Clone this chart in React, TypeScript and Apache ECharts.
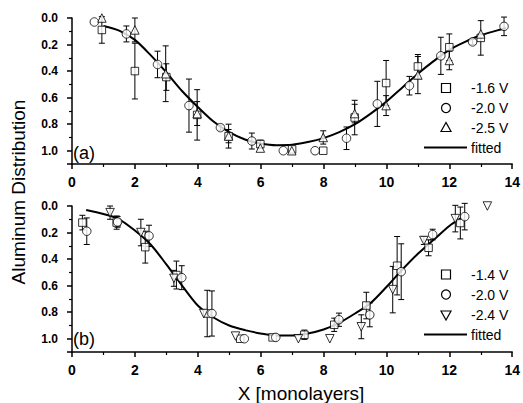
import React, { useEffect, useRef } from "react";
import * as echarts from "echarts";

// ---- data: [x, y, error] ----
const topSquare = [
  [0.95, 0.09, 0.1], [2.0, 0.40, 0.21], [3.0, 0.445, 0.1], [3.98, 0.73, 0.19],
  [4.98, 0.89, 0.05], [5.99, 0.95, 0.03], [7.0, 0.99, 0], [7.99, 1.0, 0],
  [8.99, 0.75, 0.13], [9.99, 0.49, 0.17], [11.0, 0.365, 0.09], [12.0, 0.22, 0.1],
  [13.0, 0.15, 0.13],
];
const topCircle = [
  [0.71, 0.03, 0], [1.73, 0.12, 0.06], [2.72, 0.35, 0.1], [3.72, 0.66, 0.2],
  [4.72, 0.826, 0.02], [5.72, 0.927, 0.06], [6.72, 1.0, 0], [7.73, 1.0, 0],
  [8.73, 0.906, 0.085], [9.71, 0.647, 0.17], [10.73, 0.51, 0.07], [11.73, 0.285, 0.14],
  [12.74, 0.18, 0.02], [13.74, 0.063, 0.07],
];
const topTriangle = [
  [0.95, 0.0, 0], [2.0, 0.09, 0.09], [2.98, 0.42, 0.21], [3.98, 0.72, 0.09],
  [4.98, 0.89, 0.09], [5.99, 0.98, 0], [6.99, 1.0, 0], [7.99, 0.9, 0.05],
  [8.99, 0.72, 0.07], [9.99, 0.66, 0.075], [11.0, 0.43, 0.14], [12.0, 0.32, 0.07],
  [13.0, 0.12, 0],
];
const topFit = [
  [1.0, 0.06], [1.5, 0.095], [2.0, 0.165], [2.5, 0.28], [3.0, 0.41], [3.5, 0.55],
  [4.0, 0.67], [4.5, 0.78], [5.0, 0.86], [5.5, 0.915], [6.0, 0.945], [6.5, 0.958],
  [7.0, 0.955], [7.5, 0.935], [8.0, 0.905], [8.5, 0.86], [9.0, 0.8], [9.5, 0.72],
  [10.0, 0.63], [10.5, 0.525], [11.0, 0.42], [11.5, 0.325], [12.0, 0.24], [12.5, 0.18],
  [13.0, 0.13], [13.5, 0.095], [13.8, 0.075],
];

const botSquare = [
  [0.33, 0.125, 0.055], [1.42, 0.125, 0.05], [2.33, 0.31, 0.12], [3.32, 0.52, 0.105],
  [4.3, 0.81, 0.175], [5.35, 1.0, 0], [6.38, 0.99, 0], [7.39, 0.97, 0.035],
  [8.34, 0.895, 0.05], [9.36, 0.75, 0.1], [10.34, 0.45, 0.22], [11.34, 0.315, 0.06],
  [12.35, 0.128, 0.12],
];
const botCircle = [
  [0.47, 0.19, 0.1], [1.45, 0.12, 0.04], [2.45, 0.225, 0.08], [3.49, 0.54, 0.09],
  [4.45, 0.81, 0.17], [5.48, 1.0, 0], [6.48, 0.99, 0], [8.49, 0.857, 0.05],
  [9.47, 0.82, 0.09], [10.47, 0.495, 0.21], [11.47, 0.215, 0.04], [12.49, 0.08, 0.1],
];
const botTriangle = [
  [1.21, 0.05, 0.05], [2.19, 0.2, 0.1], [3.24, 0.545, 0.06], [4.19, 0.81, 0],
  [5.2, 0.98, 0], [7.2, 1.0, 0], [8.2, 1.0, 0], [9.2, 0.91, 0.09],
  [10.2, 0.63, 0.175], [11.19, 0.26, 0.03], [12.19, 0.095, 0.1], [13.21, 0.0, 0],
];
const botFit = [
  [0.45, 0.03], [1.0, 0.06], [1.5, 0.1], [2.0, 0.185], [2.5, 0.29], [3.0, 0.44],
  [3.5, 0.6], [4.0, 0.75], [4.5, 0.84], [5.0, 0.9], [5.5, 0.935], [6.0, 0.96],
  [6.5, 0.975], [7.0, 0.975], [7.5, 0.96], [8.0, 0.93], [8.5, 0.88], [9.0, 0.81],
  [9.5, 0.73], [10.0, 0.61], [10.5, 0.48], [11.0, 0.36], [11.5, 0.255], [12.0, 0.15],
  [12.35, 0.095],
];

const topLegend = ["-1.6 V", "-2.0 V", "-2.5 V", "fitted"];
const botLegend = ["-1.4 V", "-2.0 V", "-2.4 V", "fitted"];
const xTicks = { min: 0, max: 14, interval: 2 };
const yTicks = { min: 0, max: 1.1, interval: 0.2 };

const FONT = "'Liberation Sans', Arial, sans-serif";

function errorSeries(data: number[][], idx: number) {
  return {
    type: "custom",
    xAxisIndex: idx,
    yAxisIndex: idx,
    data,
    z: 2,
    silent: true,
    encode: { x: 0, y: 1 },
    renderItem: (_p: any, api: any) => {
      const x = api.value(0);
      const y = api.value(1);
      const e = api.value(2);
      if (!e) return { type: "group", children: [] };
      const a = api.coord([x, y - e]);
      const b = api.coord([x, y + e]);
      const hw = 3;
      const st = { stroke: "#000", lineWidth: 1 };
      return {
        type: "group",
        children: [
          { type: "line", shape: { x1: a[0], y1: a[1], x2: b[0], y2: b[1] }, style: st },
          { type: "line", shape: { x1: a[0] - hw, y1: a[1], x2: a[0] + hw, y2: a[1] }, style: st },
          { type: "line", shape: { x1: b[0] - hw, y1: b[1], x2: b[0] + hw, y2: b[1] }, style: st },
        ],
      };
    },
  };
}

function scatterSeries(name: string, data: number[][], idx: number, symbol: string, rotate = 0) {
  return {
    type: "scatter",
    name,
    xAxisIndex: idx,
    yAxisIndex: idx,
    data: data.map((d) => [d[0], d[1]]),
    symbol,
    symbolSize: symbol === "rect" ? 7.5 : 8.5,
    symbolRotate: rotate,
    itemStyle: { color: "#fff", borderColor: "#000", borderWidth: 1 },
    z: 3,
  };
}

function fitSeries(data: number[][], idx: number) {
  return {
    type: "line",
    name: "fitted",
    xAxisIndex: idx,
    yAxisIndex: idx,
    data,
    smooth: 0.3,
    showSymbol: false,
    lineStyle: { color: "#000", width: 2 },
    z: 2,
  };
}

function xAxis(idx: number) {
  return {
    type: "value",
    gridIndex: idx,
    ...xTicks,
    axisLine: { show: true, onZero: false, lineStyle: { color: "#000", width: 1.5 } },
    axisTick: { show: true, inside: false, length: 5, lineStyle: { color: "#000", width: 1.5 } },
    minorTick: { show: true, splitNumber: 2, length: 3, lineStyle: { color: "#000", width: 1.2 } },
    splitLine: { show: false },
    axisLabel: { color: "#000", fontSize: 14, fontWeight: "bold", fontFamily: FONT, margin: 11 },
  };
}

function yAxis(idx: number) {
  return {
    type: "value",
    gridIndex: idx,
    inverse: true,
    ...yTicks,
    axisLine: { show: true, onZero: false, lineStyle: { color: "#000", width: 1.5 } },
    axisTick: { show: true, inside: false, length: 5, lineStyle: { color: "#000", width: 1.5 } },
    minorTick: { show: true, splitNumber: 2, length: 3, lineStyle: { color: "#000", width: 1.2 } },
    splitLine: { show: false },
    axisLabel: {
      color: "#000", fontSize: 12, fontWeight: "bold", fontFamily: FONT, margin: 14,
      showMaxLabel: false,
      formatter: (v: number) => v.toFixed(1),
    },
  };
}

function legendGraphics(names: string[], rows: number[], down: boolean) {
  const sx = 446;
  const tx = 471;
  const st = { fill: "#fff", stroke: "#000", lineWidth: 1.2 };
  const txt = (s: string, y: number) => ({
    type: "text", x: tx, y, style: { text: s, fill: "#000", font: `14px ${FONT}`, verticalAlign: "middle" },
  });
  const tri = down
    ? [[sx - 5, rows[2] - 4], [sx + 5, rows[2] - 4], [sx, rows[2] + 5]]
    : [[sx, rows[2] - 5], [sx - 5, rows[2] + 4], [sx + 5, rows[2] + 4]];
  return [
    { type: "rect", shape: { x: sx - 4.5, y: rows[0] - 4.5, width: 9, height: 9 }, style: st },
    txt(names[0], rows[0]),
    { type: "circle", shape: { cx: sx, cy: rows[1], r: 4.5 }, style: st },
    txt(names[1], rows[1]),
    { type: "polygon", shape: { points: tri }, style: st },
    txt(names[2], rows[2]),
    { type: "line", shape: { x1: 424, y1: rows[3], x2: 467, y2: rows[3] }, style: { stroke: "#000", lineWidth: 2 } },
    txt(names[3], rows[3]),
  ];
}

export default function App() {
  const ref = useRef<HTMLDivElement>(null);
  useEffect(() => {
    if (!ref.current) return;
    const chart = echarts.init(ref.current, null, { renderer: "svg" });
    chart.setOption({
      animation: false,
      backgroundColor: "#fff",
      grid: [
        { left: 72, top: 18, width: 443, height: 146 },
        { left: 72, top: 206, width: 443, height: 146 },
      ],
      xAxis: [xAxis(0), xAxis(1)],
      yAxis: [yAxis(0), yAxis(1)],
      series: [
        fitSeries(topFit, 0),
        errorSeries(topSquare, 0),
        errorSeries(topCircle, 0),
        errorSeries(topTriangle, 0),
        scatterSeries(topLegend[0], topSquare, 0, "rect"),
        scatterSeries(topLegend[1], topCircle, 0, "circle"),
        scatterSeries(topLegend[2], topTriangle, 0, "triangle"),
        fitSeries(botFit, 1),
        errorSeries(botSquare, 1),
        errorSeries(botCircle, 1),
        errorSeries(botTriangle, 1),
        scatterSeries(botLegend[0], botSquare, 1, "rect"),
        scatterSeries(botLegend[1], botCircle, 1, "circle"),
        scatterSeries(botLegend[2], botTriangle, 1, "triangle", 180),
      ],
      graphic: [
        ...legendGraphics(topLegend, [88, 108, 127.5, 147.5], false),
        ...legendGraphics(botLegend, [274.5, 294.5, 315, 334.5], true),
        { type: "text", x: 73, y: 153, style: { text: "(a)", fill: "#000", font: `18px ${FONT}`, verticalAlign: "middle" } },
        { type: "text", x: 73, y: 339, style: { text: "(b)", fill: "#000", font: `18px ${FONT}`, verticalAlign: "middle" } },
        {
          type: "text", x: 301, y: 393,
          style: { text: "X [monolayers]", fill: "#000", font: `19px ${FONT}`, align: "center", verticalAlign: "middle" },
        },
        {
          type: "text", x: 18, y: 192, rotation: Math.PI / 2,
          style: { text: "Aluminum Distribution", fill: "#000", font: `19px ${FONT}`, align: "center", verticalAlign: "middle" },
        },
      ],
    });
    return () => chart.dispose();
  }, []);
  return (
    <div
      ref={ref}
      style={{ position: "absolute", left: 0, top: 0, width: 523, height: 403 }}
    />
  );
}
